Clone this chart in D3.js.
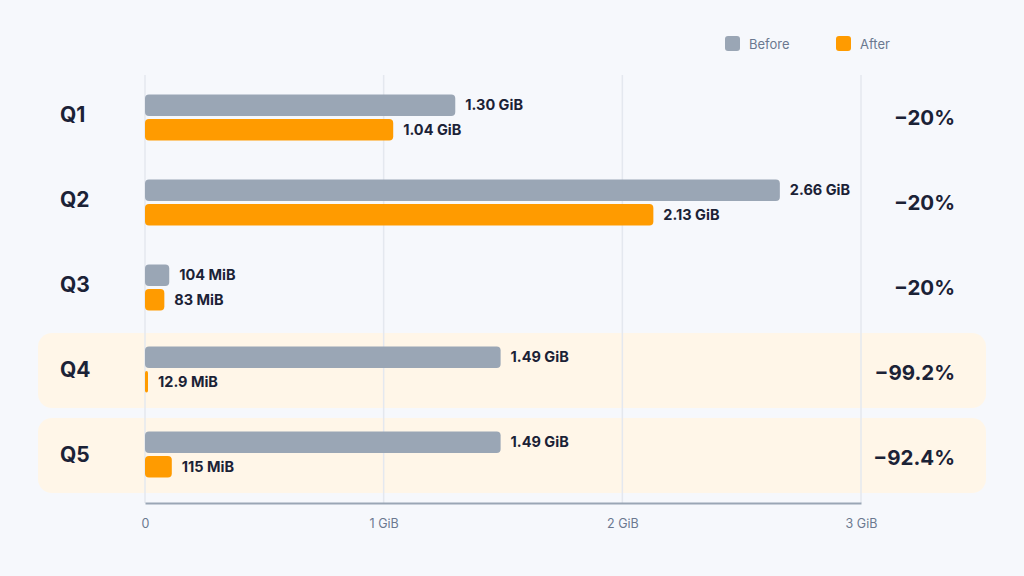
<!DOCTYPE html>
<html>
<head>
<meta charset="utf-8">
<script src="https://cdn.jsdelivr.net/npm/d3@7"></script>
<style>
  body { margin: 0; background: #f6f8fc; }
  svg { display: block; font-family: Inter, "Noto Sans", sans-serif; }
</style>
</head>
<body>
<svg width="1024" height="576"></svg>
<script>
// data (GiB)
var categories = ["Q1", "Q2", "Q3", "Q4", "Q5"]
var beforeVals = [1.30, 2.66, 104 / 1024, 1.49, 1.49]
var afterVals = [1.04, 2.13, 83 / 1024, 12.9 / 1024, 115 / 1024]
var beforeLabels = ["1.30 GiB", "2.66 GiB", "104 MiB", "1.49 GiB", "1.49 GiB"]
var afterLabels = ["1.04 GiB", "2.13 GiB", "83 MiB", "12.9 MiB", "115 MiB"]
var changeLabels = ["\u221220%", "\u221220%", "\u221220%", "\u221299.2%", "\u221292.4%"]
var highlighted = ["Q4", "Q5"]
var ticks = [0, 1, 2, 3]
var tickLabels = ["0", "1 GiB", "2 GiB", "3 GiB"]

var svg = d3.select("svg")
var grey = "#9aa6b5", orange = "#ff9b00", ink = "#1b2236"

var x = d3.scaleLinear().domain([0, 3]).range([145, 861])
var y = d3.scaleBand().domain(categories).range([75, 500])
var sub = d3.scaleBand().domain(["before", "after"]).range([-23, 23]).paddingInner(0.13)

var rows = categories.map((c, i) => ({
  cat: c, before: beforeVals[i], after: afterVals[i],
  bl: beforeLabels[i], al: afterLabels[i], chg: changeLabels[i],
  hl: highlighted.indexOf(c) >= 0
}))

// highlight bands
svg.selectAll("rect.hl")
  .data(highlighted)
  .enter()
  .append("rect")
  .attr("class", "hl")
  .attr("x", 38).attr("width", 948)
  .attr("y", d => y(d) + 3).attr("height", 75)
  .attr("rx", 14)
  .style("fill", "#fff6e8")

// grid
svg.selectAll("line.grid")
  .data(ticks)
  .enter()
  .append("line")
  .attr("x1", d => x(d)).attr("x2", d => x(d))
  .attr("y1", 75).attr("y2", 503)
  .style("stroke", "#e4e8ef").style("stroke-width", 1.5)

// axis
var axis = d3.axisBottom(x).tickValues(ticks).tickFormat((d, i) => tickLabels[i]).tickSize(0).tickPadding(16)
var ag = svg.append("g").attr("transform", "translate(0,503)").call(axis)
ag.select(".domain").style("stroke", "#9aa6b5").style("stroke-width", 2)
ag.selectAll("text").style("font-size", "12.5px").style("fill", "#6b7890").style("font-family", "Inter, sans-serif")

var g = svg.selectAll("g.row")
  .data(rows)
  .enter()
  .append("g")
  .attr("class", "row")
  .attr("transform", d => "translate(0," + (y(d.cat) + y.bandwidth() / 2) + ")")

g.append("text")
  .attr("x", 60).attr("y", -3).attr("dy", "0.35em")
  .text(d => d.cat)
  .style("font-size", "21px").style("font-weight", 700).style("fill", ink)

g.append("text")
  .attr("x", 955).attr("y", 0).attr("dy", "0.35em")
  .attr("text-anchor", "end")
  .text(d => d.chg)
  .style("font-size", "20.5px").style("font-weight", 700).style("fill", ink)

// bars sit slightly higher inside the highlighted rows
var bars = g.append("g").attr("transform", d => "translate(0," + (d.hl ? -3 : 0) + ")")

bars.append("rect")
  .attr("x", x(0)).attr("y", sub("before"))
  .attr("width", d => x(d.before) - x(0)).attr("height", sub.bandwidth())
  .attr("rx", 4).style("fill", grey)

bars.append("rect")
  .attr("x", x(0)).attr("y", sub("after"))
  .attr("width", d => Math.max(3, x(d.after) - x(0))).attr("height", sub.bandwidth())
  .attr("rx", d => Math.min(4, (x(d.after) - x(0)) / 2 + 0.5)).style("fill", orange)

bars.append("text")
  .attr("x", d => x(d.before) + 10).attr("y", sub("before") + sub.bandwidth() / 2).attr("dy", "0.35em")
  .text(d => d.bl)
  .style("font-size", "14.5px").style("font-weight", 700).style("fill", ink)

bars.append("text")
  .attr("x", d => Math.max(x(d.after), x(0) + 3) + 10).attr("y", sub("after") + sub.bandwidth() / 2).attr("dy", "0.35em")
  .text(d => d.al)
  .style("font-size", "14.5px").style("font-weight", 700).style("fill", ink)

// legend
var legend = [{ name: "Before", color: grey, x: 725 }, { name: "After", color: orange, x: 836 }]
var lg = svg.selectAll("g.legend").data(legend).enter().append("g").attr("class", "legend")
lg.append("rect").attr("x", d => d.x).attr("y", 36).attr("width", 15).attr("height", 15).attr("rx", 3).style("fill", d => d.color)
lg.append("text").attr("x", d => d.x + 24).attr("y", 44).attr("dy", "0.35em").text(d => d.name)
  .style("font-size", "13px").style("fill", "#6b7890")
</script>
</body>
</html>
